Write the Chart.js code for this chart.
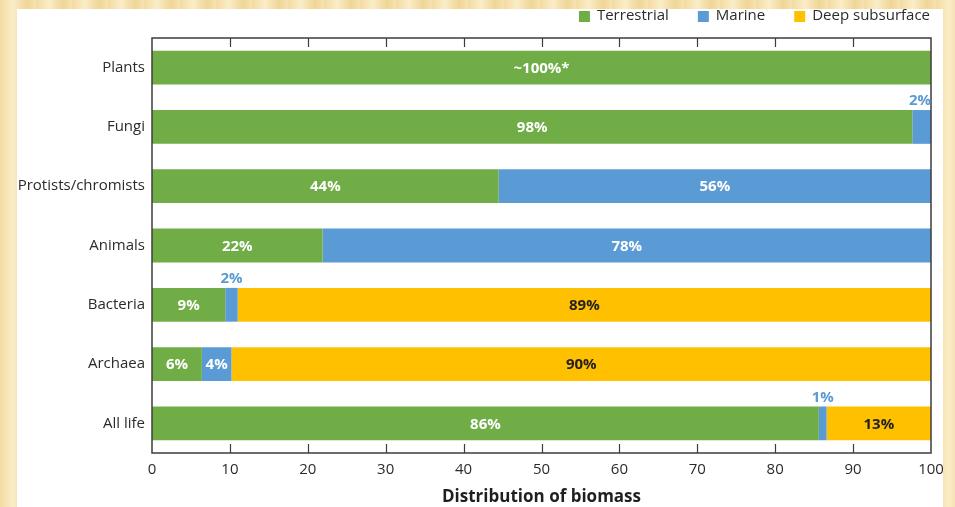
<!DOCTYPE html>
<html>
<head>
<meta charset="utf-8">
<script src="https://cdn.jsdelivr.net/npm/chart.js@4.4.0/dist/chart.umd.min.js"></script>
<style>
    html, body { margin: 0; padding: 0; width: 955px; height: 507px; overflow: hidden; }
    body {
        position: relative;
        background: repeating-linear-gradient(90deg, #f3dba0 0px, #fbedc8 13px, #efd596 27px, #f7e3b2 36px);
    }
    #panel { position: absolute; left: 17px; top: 9px; width: 926px; height: 498px; background: #fff; }
</style>
</head>
<body>
<div id="panel"><canvas id="chart" width="926" height="498"></canvas></div>
<script>
    var categories = ['Plants', 'Fungi', 'Protists/chromists', 'Animals', 'Bacteria', 'Archaea', 'All life'];
    var seriesNames = ['Terrestrial', 'Marine', 'Deep subsurface'];

    // share of biomass in %
    var terrestrial = [100, 97.6, 44.5, 21.9, 9.4, 6.4, 85.6];
    var marine = [0, 2.4, 55.5, 78.1, 1.6, 3.8, 1.0];
    var deepSubsurface = [0, 0, 0, 0, 89.0, 89.8, 13.4];

    var terrestrialLabels = ['~100%*', '98%', '44%', '22%', '9%', '6%', '86%'];
    var marineLabels = ['', '2%', '56%', '78%', '2%', '4%', '1%'];
    var deepLabels = ['', '', '', '', '89%', '90%', '13%'];

    var xTicks = [0, 10, 20, 30, 40, 50, 60, 70, 80, 90, 100];

    var FONT = "'Open Sans', 'Noto Sans', sans-serif";
    var TEXT = '#2b2b2b';

    var segmentLabels = {
        id: 'segmentLabels',
        afterDatasetsDraw: function (chart) {
            var ctx = chart.ctx;
            var area = chart.chartArea;

            // frame and inward tick marks
            var xs = chart.scales.x;
            ctx.save();
            ctx.strokeStyle = '#3c3c3c';
            ctx.lineWidth = 1.5;
            ctx.strokeRect(area.left, area.top, area.right - area.left, area.bottom - area.top);
            ctx.lineWidth = 1.2;
            xs.ticks.forEach(function (t) {
                if (t.value <= 0 || t.value >= 100) return;
                var px = Math.round(xs.getPixelForValue(t.value)) + 0.5;
                ctx.beginPath();
                ctx.moveTo(px, area.top);
                ctx.lineTo(px, area.top + 9);
                ctx.moveTo(px, area.bottom);
                ctx.lineTo(px, area.bottom - 9);
                ctx.stroke();
            });

            ctx.font = 'bold 15px ' + FONT;
            ctx.textBaseline = 'middle';
            chart.data.datasets.forEach(function (ds, di) {
                var meta = chart.getDatasetMeta(di);
                meta.data.forEach(function (bar, i) {
                    var txt = ds.segLabels[i];
                    if (!txt) return;
                    var p = bar.getProps(['x', 'y', 'base', 'height'], true);
                    var left = Math.min(p.x, p.base), right = Math.max(p.x, p.base);
                    var w = ctx.measureText(txt).width;
                    var cx = (left + right) / 2;
                    if (right - left > w + 4) {
                        ctx.fillStyle = ds.labelColor;
                        ctx.textAlign = 'center';
                        ctx.fillText(txt, cx, p.y + 1);
                    } else {
                        ctx.fillStyle = ds.backgroundColor;
                        var y = p.y - p.height / 2 - 9;
                        if (cx + w / 2 > area.right) {
                            ctx.textAlign = 'right';
                            ctx.fillText(txt, area.right, y);
                        } else {
                            ctx.textAlign = 'center';
                            ctx.fillText(txt, cx, y);
                        }
                    }
                });
            });
            ctx.restore();
        },
        afterDraw: function (chart) {
            var ctx = chart.ctx;
            var area = chart.chartArea;
            var items = chart.data.datasets;
            ctx.save();
            ctx.font = '15px ' + FONT;
            ctx.textBaseline = 'middle';
            ctx.textAlign = 'left';
            var x = area.right - 1;
            for (var i = items.length - 1; i >= 0; i--) {
                var w = ctx.measureText(items[i].label).width;
                var tx = x - w;
                var sx = tx - 7 - 11;
                ctx.fillStyle = items[i].backgroundColor;
                ctx.fillRect(sx, 2, 11, 11);
                ctx.fillStyle = TEXT;
                ctx.fillText(items[i].label, tx, 7);
                x = sx - 29;
            }
            ctx.restore();
        }
    };

    var ctx = document.getElementById('chart').getContext('2d');
    var chart = new Chart(ctx, {
        type: 'bar',
        data: {
            labels: categories,
            datasets: [
                { label: seriesNames[0], data: terrestrial, backgroundColor: '#70ad47', segLabels: terrestrialLabels, labelColor: '#ffffff' },
                { label: seriesNames[1], data: marine, backgroundColor: '#5b9bd5', segLabels: marineLabels, labelColor: '#ffffff' },
                { label: seriesNames[2], data: deepSubsurface, backgroundColor: '#ffc000', segLabels: deepLabels, labelColor: '#231f20' }
            ]
        },
        options: {
            indexAxis: 'y',
            responsive: false,
            animation: false,
            devicePixelRatio: 1,
            barPercentage: 0.57,
            categoryPercentage: 1.0,
            layout: { padding: { top: 29, right: 12, left: 0, bottom: 0 } },
            plugins: {
                legend: { display: false },
                tooltip: { enabled: false }
            },
            scales: {
                x: {
                    stacked: true,
                    min: 0,
                    max: 100,
                    afterBuildTicks: function (scale) {
                        scale.ticks = xTicks.map(function (v) { return { value: v }; });
                    },
                    afterFit: function (scale) {
                        scale.height = 54;
                        scale.paddingLeft = 0;
                        scale.paddingRight = 0;
                    },
                    grid: { display: false, drawTicks: false },
                    border: { display: false },
                    ticks: { padding: 8, color: TEXT, font: { family: FONT, size: 15 }, maxRotation: 0 },
                    title: {
                        display: true,
                        text: 'Distribution of biomass',
                        color: '#1f1f1f',
                        font: { family: FONT, size: 17, weight: 'bold' },
                        padding: { top: 0, bottom: 0 }
                    }
                },
                y: {
                    stacked: true,
                    afterFit: function (scale) { scale.width = 135; },
                    grid: { display: false, drawTicks: false },
                    border: { display: false },
                    ticks: { padding: 7, color: TEXT, font: { family: FONT, size: 15 } }
                }
            }
        },
        plugins: [segmentLabels]
    });
</script>
</body>
</html>
